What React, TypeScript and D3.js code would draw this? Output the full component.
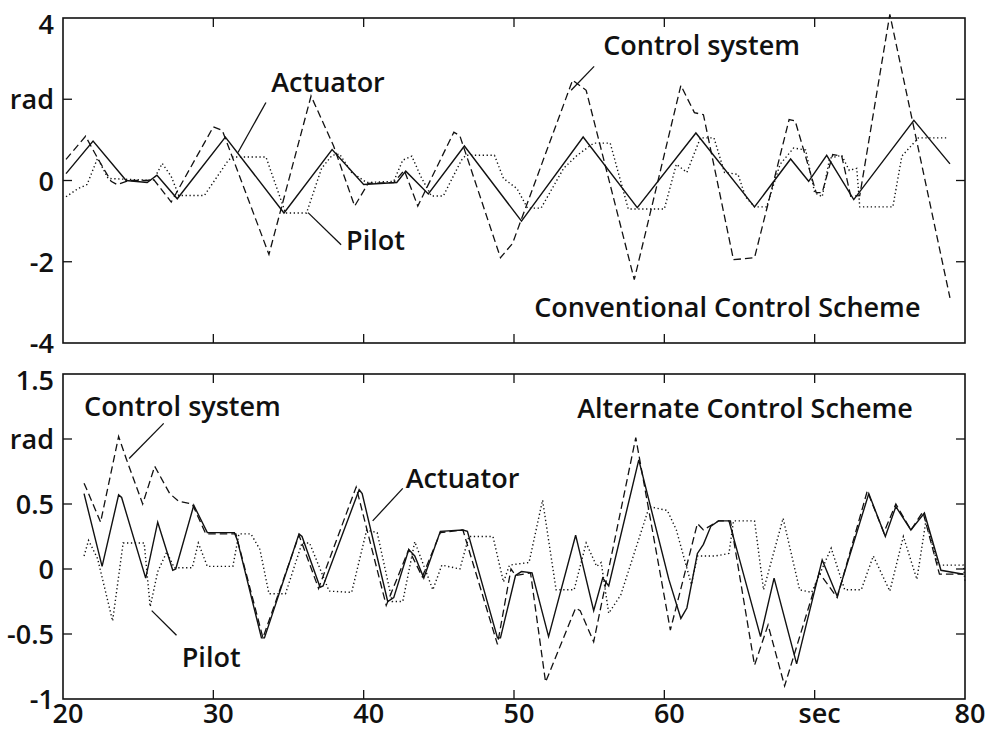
import React from "react";
import * as d3 from "d3";

// ---------- DATA ----------
// Top panel: Conventional Control Scheme
const topActuatorT = [20.2, 22.0, 24.2, 25.6, 26.25, 27.6, 30.8, 34.7, 37.9, 40.0, 42.2, 42.8, 44.3, 46.7, 50.5, 54.6, 58.2, 62.1, 66.0, 68.4, 69.6, 70.8, 72.6, 76.6, 79.0];
const topActuatorV = [0.17, 0.97, 0.0, -0.05, 0.13, -0.45, 1.07, -0.8, 0.76, -0.1, -0.05, 0.23, -0.33, 0.85, -1.0, 1.07, -0.67, 1.17, -0.65, 0.53, -0.02, 0.62, -0.47, 1.48, 0.41];

const topControlT = [20.2, 21.5, 22.3, 23.2, 23.6, 24.4, 25.6, 26.0, 27.2, 30.0, 30.6, 33.7, 36.5, 38.0, 39.4, 40.3, 42.0, 42.7, 43.6, 46.0, 46.4, 49.1, 49.9, 53.9, 54.8, 58.0, 61.1, 62.0, 62.6, 64.6, 66.0, 68.3, 68.7, 70.1, 70.5, 71.2, 71.8, 72.4, 73.0, 75.0, 79.0];
const topControlV = [0.52, 1.09, 0.55, -0.02, -0.1, 0.0, 0.0, 0.04, -0.53, 1.32, 1.23, -1.82, 2.08, 0.85, -0.63, -0.07, -0.05, 0.25, -0.63, 1.19, 1.1, -1.9, -1.55, 2.47, 2.22, -2.44, 2.34, 1.67, 1.62, -1.95, -1.9, 1.5, 1.47, -0.3, -0.3, 0.64, 0.6, -0.39, -0.37, 4.09, -2.89];

const topPilotT = [20.2, 21.0, 21.6, 22.3, 23.0, 26.0, 26.6, 27.2, 27.7, 29.4, 31.0, 31.3, 33.5, 34.8, 36.2, 37.2, 37.9, 38.4, 39.2, 40.2, 42.0, 42.6, 43.2, 43.8, 44.5, 45.3, 46.5, 46.8, 48.7, 49.3, 50.2, 50.9, 51.8, 53.3, 54.2, 55.3, 56.4, 57.6, 60.0, 60.8, 61.5, 62.4, 63.3, 64.0, 64.9, 65.4, 66.0, 66.8, 67.7, 68.6, 69.4, 70.0, 70.5, 71.0, 71.8, 72.3, 72.8, 73.0, 75.2, 75.8, 76.9, 78.8];
const topPilotV = [-0.4, -0.2, -0.1, 0.55, 0.05, 0.0, 0.42, 0.1, -0.37, -0.37, 0.5, 0.58, 0.58, -0.8, -0.8, 0.3, 0.62, 0.65, 0.2, -0.05, -0.02, 0.5, 0.6, 0.1, -0.38, -0.38, 0.5, 0.62, 0.62, 0.05, -0.2, -0.68, -0.68, 0.3, 0.62, 0.92, 0.92, -0.7, -0.7, 0.4, 0.2, 1.05, 1.05, 0.2, 0.15, -0.4, -0.65, -0.65, 0.4, 0.8, 0.75, -0.3, -0.4, 0.55, 0.62, 0.25, 0.3, -0.65, -0.65, 0.6, 1.05, 1.05];

// Bottom panel: Alternate Control Scheme
const botActuatorT = [21.4, 22.6, 23.7, 23.9, 25.5, 26.3, 27.3, 27.5, 28.7, 29.6, 31.4, 31.6, 33.2, 33.4, 35.7, 35.9, 37.1, 37.3, 39.7, 39.9, 41.6, 42.0, 43.0, 43.4, 44.0, 45.1, 46.6, 46.9, 48.9, 49.1, 50.1, 50.5, 51.2, 52.3, 54.1, 55.3, 55.9, 56.3, 58.3, 60.3, 61.1, 61.5, 62.2, 62.6, 63.1, 63.6, 64.3, 66.4, 67.3, 68.8, 70.5, 71.5, 73.6, 74.7, 75.4, 76.4, 77.3, 78.4, 79.9];
const botActuatorV = [0.58, 0.02, 0.57, 0.55, -0.07, 0.36, -0.01, 0.0, 0.49, 0.28, 0.28, 0.22, -0.53, -0.53, 0.27, 0.25, -0.14, -0.13, 0.61, 0.58, -0.25, -0.22, 0.15, 0.1, -0.07, 0.29, 0.3, 0.29, -0.53, -0.53, -0.05, -0.02, -0.03, -0.52, 0.26, -0.32, -0.07, -0.13, 0.84, -0.08, -0.38, -0.3, 0.12, 0.19, 0.33, 0.37, 0.37, -0.52, -0.07, -0.73, 0.07, -0.21, 0.58, 0.25, 0.48, 0.3, 0.43, -0.01, -0.04];

const botControlT = [21.4, 21.7, 22.5, 23.7, 24.2, 25.3, 26.1, 27.1, 27.7, 28.6, 29.5, 31.5, 33.3, 35.7, 37.0, 39.5, 41.5, 43.0, 43.9, 45.1, 46.6, 48.9, 49.8, 50.1, 51.1, 52.1, 54.1, 54.4, 55.3, 58.1, 60.4, 62.2, 62.6, 63.6, 64.4, 66.0, 66.9, 68.0, 70.3, 71.5, 73.5, 74.6, 75.4, 76.4, 77.2, 78.3, 79.9];
const botControlV = [0.66, 0.58, 0.36, 1.02, 0.85, 0.5, 0.79, 0.58, 0.52, 0.5, 0.27, 0.27, -0.53, 0.26, -0.15, 0.63, -0.28, 0.15, -0.06, 0.28, 0.3, -0.58, 0.0, -0.05, -0.03, -0.87, -0.3, -0.32, -0.56, 1.01, -0.47, 0.35, 0.3, 0.37, 0.37, -0.74, -0.43, -0.9, -0.03, -0.22, 0.6, 0.28, 0.5, 0.3, 0.44, -0.04, -0.04];

const botPilotT = [21.4, 21.7, 22.3, 23.3, 24.0, 25.4, 25.8, 26.3, 26.9, 27.4, 28.6, 29.0, 29.6, 31.3, 31.7, 32.5, 33.1, 33.7, 34.8, 35.9, 36.4, 37.7, 39.2, 40.2, 40.9, 41.9, 42.6, 43.4, 44.6, 45.2, 46.4, 47.0, 48.6, 49.3, 49.7, 51.0, 51.9, 52.8, 54.0, 54.8, 55.5, 55.8, 56.3, 57.1, 59.0, 60.2, 60.8, 61.8, 62.2, 63.4, 64.3, 64.6, 66.0, 66.6, 67.9, 69.0, 69.8, 71.1, 72.0, 73.1, 73.9, 75.0, 75.9, 76.8, 77.4, 78.2, 79.9, 80.0];
const botPilotV = [0.1, 0.22, 0.08, -0.4, 0.2, 0.2, -0.29, -0.02, 0.13, 0.01, 0.01, 0.2, 0.02, 0.02, 0.27, 0.27, 0.15, -0.19, -0.19, 0.2, 0.2, -0.17, -0.18, 0.3, 0.28, -0.25, -0.25, 0.21, -0.16, 0.03, 0.0, 0.25, 0.25, -0.1, 0.03, 0.05, 0.53, -0.16, -0.16, 0.2, 0.02, 0.05, -0.34, -0.2, 0.48, 0.45, 0.3, -0.12, 0.1, 0.1, 0.12, 0.37, 0.37, -0.16, 0.39, -0.16, -0.18, 0.16, -0.16, -0.16, 0.1, -0.17, 0.25, -0.08, 0.37, 0.03, 0.03, -0.1];

// Axis ticks / labels
const xTicks = [20, 30, 40, 50, 60, 70, 80];
const xTickLabels = ["20", "30", "40", "50", "60", "sec", "80"];
const topYTicks = [4, 2, 0, -2, -4];
const topYLabels = ["4", "rad", "0", "-2", "-4"];
const botYTicks = [1.5, 1, 0.5, 0, -0.5, -1];
const botYLabels = ["1.5", "rad", "0.5", "0", "-0.5", "-1"];

// Annotations (data coordinates): text anchor + leader line
const topAnnotations = [
  { text: "Actuator", t: 33.85, v: 2.19, line: [[33.5, 1.92], [31.64, 0.69]] },
  { text: "Control system", t: 55.93, v: 3.1, line: [[55.33, 2.81], [53.8, 2.22]] },
  { text: "Pilot", t: 38.83, v: -1.7, line: [[36.3, -0.79], [38.5, -1.58]] },
  { text: "Conventional Control Scheme", t: 51.34, v: -3.35, line: null },
];
const botAnnotations = [
  { text: "Control system", t: 21.4, v: 1.18, line: [[26.7, 1.12], [24.4, 0.85]] },
  { text: "Alternate Control Scheme", t: 54.2, v: 1.16, line: null },
  { text: "Actuator", t: 42.8, v: 0.62, line: [[42.6, 0.62], [40.6, 0.37]] },
  { text: "Pilot", t: 27.9, v: -0.75, line: [[27.55, -0.51], [25.9, -0.32]] },
];

// ---------- LAYOUT ----------
const W = 991;
const H = 732;
const X0 = 63;
const X1 = 965;
const INK = "#111";
const FONT = "'Open Sans', 'Noto Sans', sans-serif";
const FS = 27;
const FW = 600;

function zip(t: number[], v: number[]) {
  return t.map((tt, i) => [tt, v[i]] as [number, number]);
}

type Ann = { text: string; t: number; v: number; line: number[][] | null };

function Panel(props: {
  top: number;
  bottom: number;
  yDomain: [number, number];
  yTicks: number[];
  yLabels: string[];
  actuator: [number, number][];
  control: [number, number][];
  pilot: [number, number][];
  annotations: Ann[];
  showX: boolean;
}) {
  const { top, bottom, yDomain, yTicks, yLabels, actuator, control, pilot, annotations, showX } = props;
  const x = d3.scaleLinear().domain([20, 80]).range([X0, X1]);
  const y = d3.scaleLinear().domain(yDomain).range([bottom, top]);
  const line = d3
    .line<[number, number]>()
    .x((d) => x(d[0]))
    .y((d) => y(d[1]));
  const TL = 9;
  return (
    <g>
      <path d={line(pilot) || ""} fill="none" stroke={INK} strokeWidth={1.4} strokeDasharray="1.3,2.6" />
      <path d={line(control) || ""} fill="none" stroke={INK} strokeWidth={1.3} strokeDasharray="7.5,4" />
      <path d={line(actuator) || ""} fill="none" stroke={INK} strokeWidth={1.4} />
      <rect x={X0} y={top} width={X1 - X0} height={bottom - top} fill="none" stroke={INK} strokeWidth={1.6} />
      {xTicks.slice(1, -1).map((t) => (
        <g key={"xt" + t}>
          <line x1={x(t)} x2={x(t)} y1={top} y2={top + TL} stroke={INK} strokeWidth={1.3} />
          <line x1={x(t)} x2={x(t)} y1={bottom} y2={bottom - TL} stroke={INK} strokeWidth={1.3} />
        </g>
      ))}
      {yTicks.slice(1, -1).map((v) => (
        <g key={"yt" + v}>
          <line x1={X0} x2={X0 + TL} y1={y(v)} y2={y(v)} stroke={INK} strokeWidth={1.3} />
          <line x1={X1} x2={X1 - TL} y1={y(v)} y2={y(v)} stroke={INK} strokeWidth={1.3} />
        </g>
      ))}
      {yTicks.map((v, i) => (
        <text
          key={"yl" + v}
          x={54}
          y={y(v) + 10 + (i === 0 ? 6 : 0)}
          textAnchor="end"
          fontFamily={FONT}
          fontSize={FS}
          fontWeight={FW}
          fill={INK}
        >
          {yLabels[i]}
        </text>
      ))}
      {showX &&
        xTicks.map((t, i) => (
          <text
            key={"xl" + t}
            x={x(t) + 5}
            y={bottom + 24}
            textAnchor="middle"
            fontFamily={FONT}
            fontSize={FS}
            fontWeight={FW}
            fill={INK}
          >
            {xTickLabels[i]}
          </text>
        ))}
      {annotations.map((a, i) => (
        <g key={"an" + i}>
          <text x={x(a.t)} y={y(a.v)} fontFamily={FONT} fontSize={FS} fontWeight={FW} fill={INK}>
            {a.text}
          </text>
          {a.line && (
            <line
              x1={x(a.line[0][0])}
              y1={y(a.line[0][1])}
              x2={x(a.line[1][0])}
              y2={y(a.line[1][1])}
              stroke={INK}
              strokeWidth={1.3}
            />
          )}
        </g>
      ))}
    </g>
  );
}

export default function App() {
  return (
    <svg
      width={W}
      height={H}
      viewBox={`0 0 ${W} ${H}`}
      style={{ position: "absolute", left: 0, top: 0, background: "#fff" }}
    >
      <rect x={0} y={0} width={W} height={H} fill="#fff" />
      <Panel
        top={18}
        bottom={343}
        yDomain={[-4, 4]}
        yTicks={topYTicks}
        yLabels={topYLabels}
        actuator={zip(topActuatorT, topActuatorV)}
        control={zip(topControlT, topControlV)}
        pilot={zip(topPilotT, topPilotV)}
        annotations={topAnnotations}
        showX={false}
      />
      <Panel
        top={374}
        bottom={699}
        yDomain={[-1, 1.5]}
        yTicks={botYTicks}
        yLabels={botYLabels}
        actuator={zip(botActuatorT, botActuatorV)}
        control={zip(botControlT, botControlV)}
        pilot={zip(botPilotT, botPilotV)}
        annotations={botAnnotations}
        showX={true}
      />
    </svg>
  );
}
